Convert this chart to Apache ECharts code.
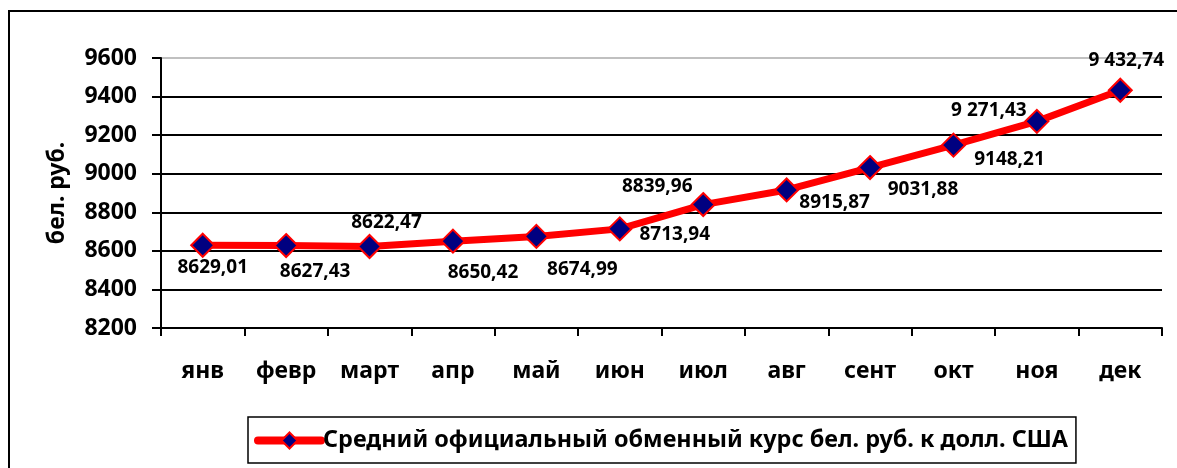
<!DOCTYPE html>
<html lang="ru">
<head>
    <meta charset="UTF-8">
    <title>Курс</title>
    <script src="https://cdn.jsdelivr.net/npm/echarts@6/dist/echarts.min.js"></script>
    <style>
        body { margin: 0; background: #fff; }
        #main { width: 1177px; height: 468px; }
    </style>
</head>
<body>
<div id="main"></div>
<script>
    // месяцы и значения курса
    var months = ['янв', 'февр', 'март', 'апр', 'май', 'июн', 'июл', 'авг', 'сент', 'окт', 'ноя', 'дек'];
    var rates = [8629.01, 8627.43, 8622.47, 8650.42, 8674.99, 8713.94, 8839.96, 8915.87, 9031.88, 9148.21, 9271.43, 9432.74];
    var rateLabels = ['8629,01', '8627,43', '8622,47', '8650,42', '8674,99', '8713,94', '8839,96', '8915,87', '9031,88', '9148,21', '9 271,43', '9 432,74'];
    var yTicks = [8200, 8400, 8600, 8800, 9000, 9200, 9400, 9600];
    var seriesName = 'Средний официальный обменный курс бел. руб. к долл. США';

    // смещения подписей относительно точек (px)
    var labelOffsets = [[10, 22], [29, 26], [17, -24], [30, 31], [46, 33], [55, 6],
        [-46, -18], [48, 13], [53, 22], [56, 14], [-48, -11], [6, -30]];

    var font = 'Noto Sans';

    var seriesData = rates.map(function (v, i) {
        return {
            value: v,
            label: { offset: labelOffsets[i] }
        };
    });

    var myChart = echarts.init(document.getElementById('main'));
    var option = {
        animation: false,
        textStyle: { fontFamily: font },
        graphic: [{
            type: 'rect',
            shape: { x: 9, y: 11, width: 1300, height: 600 },
            style: { fill: 'none', stroke: '#000', lineWidth: 2 },
            silent: true
        }],
        grid: { left: 161, right: 15, top: 58, bottom: 140 },
        legend: {
            data: [seriesName],
            left: 248,
            top: 417,
            borderColor: '#000',
            borderWidth: 1.5,
            padding: [12, 8, 11, 6],
            itemWidth: 63,
            itemHeight: 20,
            itemGap: 0,
            lineStyle: { width: 8, cap: 'round' },
            textStyle: { fontFamily: font, fontWeight: 'bold', fontSize: 23.4, color: '#000', padding: [0, 0, 0, -3] }
        },
        xAxis: {
            type: 'category',
            data: months,
            boundaryGap: true,
            axisLine: { lineStyle: { color: '#000', width: 2 } },
            axisTick: { show: true, length: 8, lineStyle: { color: '#000', width: 2 } },
            axisLabel: { margin: 32, fontFamily: font, fontWeight: 'bold', fontSize: 23, color: '#000' }
        },
        yAxis: {
            type: 'value',
            min: yTicks[0],
            max: yTicks[yTicks.length - 1],
            interval: yTicks[1] - yTicks[0],
            name: 'бел. руб.',
            nameLocation: 'middle',
            nameRotate: 90,
            nameGap: 92,
            nameTextStyle: { fontFamily: font, fontWeight: 'bold', fontSize: 23, color: '#000' },
            axisLine: { show: true, lineStyle: { color: '#000', width: 2 } },
            axisTick: { show: true, length: 9, lineStyle: { color: '#000', width: 2 } },
            axisLabel: {
                margin: 24, fontFamily: font, fontWeight: 'bold', fontSize: 23, color: '#000',
                formatter: function (v) { return String(v); }
            },
            splitLine: {
                show: true,
                lineStyle: { width: 2, color: ['#000', '#000', '#000', '#000', '#000', '#000', '#000', '#c0c0c0'] }
            }
        },
        series: [{
            name: seriesName,
            type: 'line',
            data: seriesData,
            symbol: 'diamond',
            symbolSize: 23,
            lineStyle: { color: '#ff0000', width: 7 },
            itemStyle: { color: '#000080', borderColor: '#ff0000', borderWidth: 2 },
            label: {
                show: true,
                position: 'inside',
                formatter: function (p) { return rateLabels[p.dataIndex]; },
                fontFamily: font,
                fontWeight: 'bold',
                fontSize: 19,
                color: '#000'
            }
        }]
    };
    myChart.setOption(option);
</script>
</body>
</html>
